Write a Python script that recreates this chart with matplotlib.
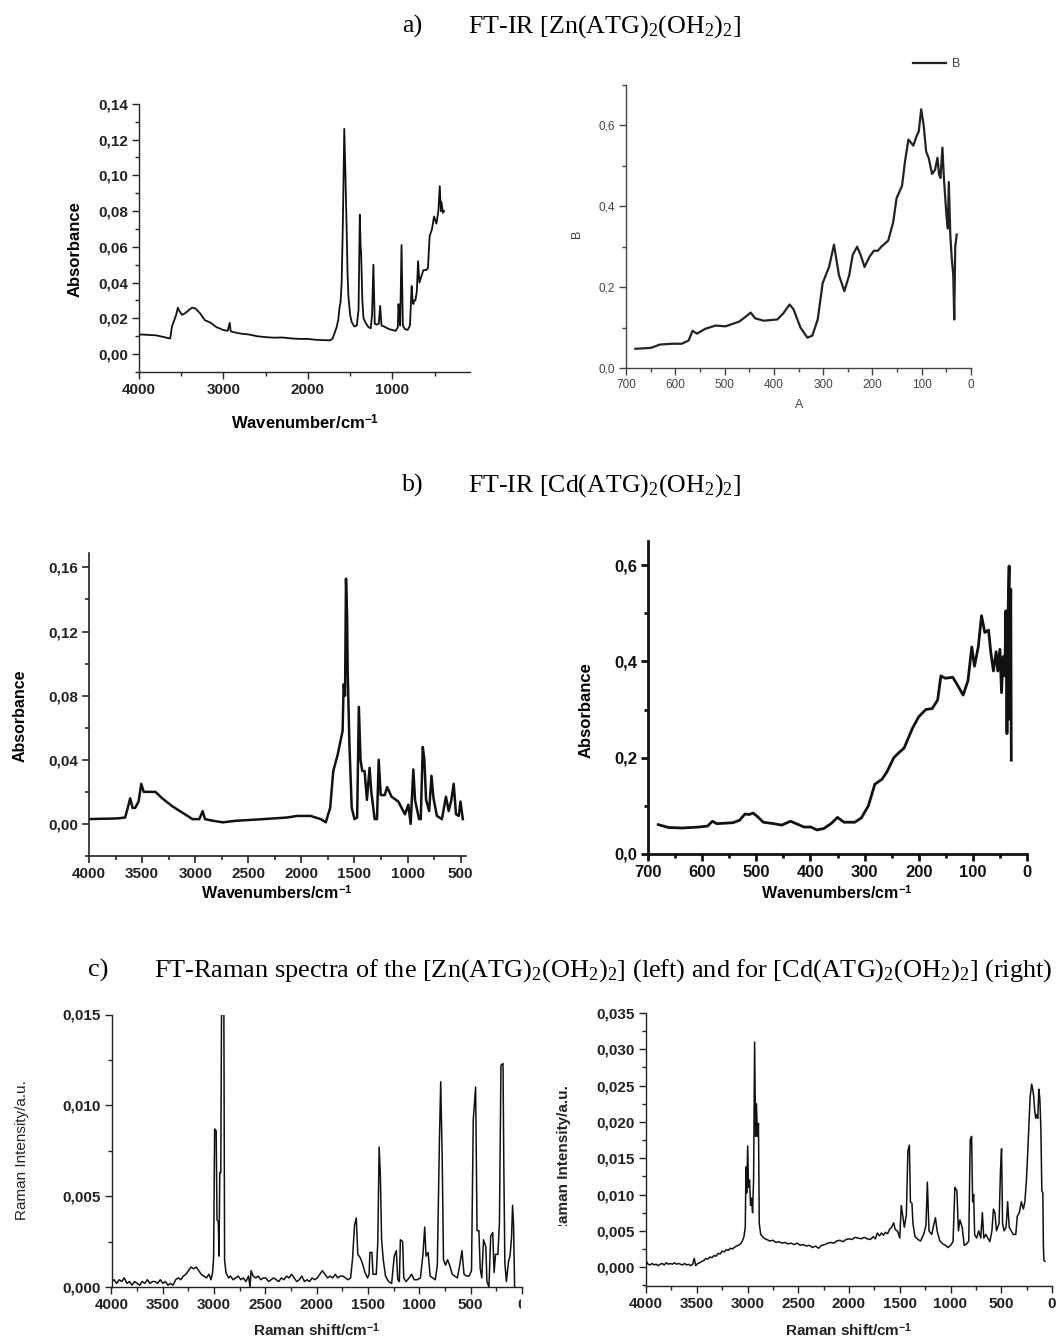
import numpy as np
import matplotlib.pyplot as plt
from matplotlib.ticker import MultipleLocator
from matplotlib.patches import Rectangle

plt.rcParams['font.family'] = ['Liberation Sans', 'DejaVu Sans']
plt.rcParams['mathtext.fontset'] = 'custom'
plt.rcParams['mathtext.rm'] = 'Liberation Serif'
plt.rcParams['mathtext.it'] = 'Liberation Serif:italic'
plt.rcParams['mathtext.bf'] = 'Liberation Sans:bold'
plt.rcParams['mathtext.sf'] = 'Liberation Sans'

# ---- data (x = wavenumber, y = intensity) ----
zn_ir = [(4000, 0.011), (3900, 0.0108), (3800, 0.0105), (3700, 0.0095), (3660, 0.009), (3630, 0.0088),
         (3610, 0.0155), (3590, 0.018), (3560, 0.022), (3540, 0.026), (3520, 0.024), (3490, 0.022),
         (3450, 0.023), (3400, 0.025), (3370, 0.026), (3330, 0.0255), (3280, 0.023), (3220, 0.019),
         (3150, 0.0175), (3080, 0.015), (3000, 0.0135), (2950, 0.013), (2925, 0.0175), (2915, 0.013),
         (2900, 0.0125), (2850, 0.012), (2800, 0.0115), (2700, 0.011), (2600, 0.01), (2500, 0.0095),
         (2400, 0.0092), (2300, 0.0093), (2200, 0.0088), (2100, 0.0085), (2000, 0.0085), (1900, 0.008),
         (1800, 0.0078), (1740, 0.0077), (1710, 0.0085), (1682, 0.012), (1660, 0.015), (1641, 0.019),
         (1625, 0.026), (1613, 0.029), (1600, 0.04), (1585, 0.075), (1569, 0.126), (1555, 0.1),
         (1541, 0.07), (1530, 0.045), (1521, 0.033), (1500, 0.022), (1481, 0.018), (1450, 0.0155),
         (1420, 0.016), (1400, 0.025), (1385, 0.078), (1375, 0.06), (1369, 0.056), (1355, 0.03),
         (1341, 0.02), (1310, 0.017), (1280, 0.015), (1255, 0.0145), (1240, 0.022), (1224, 0.05),
         (1208, 0.017), (1185, 0.0165), (1160, 0.017), (1144, 0.027), (1128, 0.016), (1100, 0.0155),
         (1040, 0.014), (960, 0.013), (935, 0.015), (927, 0.028), (915, 0.02), (907, 0.016),
         (891, 0.061), (875, 0.016), (850, 0.014), (819, 0.0135), (791, 0.016), (771, 0.038),
         (760, 0.03), (751, 0.028), (740, 0.03), (727, 0.03), (710, 0.035), (695, 0.052), (679, 0.04),
         (660, 0.043), (631, 0.047), (600, 0.047), (578, 0.048), (558, 0.066), (530, 0.07),
         (506, 0.077), (478, 0.073), (455, 0.08), (438, 0.094), (425, 0.08), (418, 0.085),
         (400, 0.079), (386, 0.08)]

zn_far = [(681, 0.0475), (660, 0.049), (649, 0.05), (631, 0.058), (607, 0.06), (587, 0.06), (573, 0.068),
          (565, 0.092), (556, 0.085), (539, 0.097), (518, 0.105), (498, 0.103), (470, 0.115), (456, 0.128),
          (447, 0.137), (438, 0.123), (421, 0.117), (393, 0.12), (381, 0.135), (368, 0.157), (360, 0.145),
          (346, 0.1), (332, 0.075), (322, 0.08), (311, 0.12), (301, 0.21), (288, 0.25), (278, 0.305),
          (268, 0.23), (257, 0.19), (247, 0.23), (240, 0.28), (231, 0.3), (224, 0.28), (216, 0.25),
          (206, 0.275), (197, 0.29), (189, 0.29), (182, 0.3), (168, 0.315), (158, 0.36), (151, 0.42),
          (140, 0.45), (134, 0.51), (127, 0.565), (117, 0.55), (110, 0.575), (106, 0.585), (101, 0.64),
          (96, 0.6), (91, 0.535), (86, 0.52), (79, 0.48), (73, 0.49), (68, 0.52), (65, 0.48), (62, 0.47),
          (58, 0.545), (55, 0.47), (50, 0.38), (47, 0.345), (45, 0.46), (42, 0.33), (39, 0.27),
          (36, 0.23), (34, 0.12), (32, 0.3), (29, 0.33)]

cd_ir = [(4000, 0.003), (3900, 0.0032), (3800, 0.0033), (3724, 0.0035), (3660, 0.004), (3635, 0.01),
         (3612, 0.016), (3590, 0.01), (3565, 0.01), (3533, 0.014), (3508, 0.025), (3485, 0.02),
         (3438, 0.02), (3374, 0.02), (3311, 0.016), (3215, 0.011), (3120, 0.007), (3025, 0.003),
         (2961, 0.003), (2930, 0.008), (2908, 0.003), (2835, 0.002), (2740, 0.001), (2612, 0.002),
         (2358, 0.003), (2250, 0.0035), (2135, 0.004), (2040, 0.005), (1913, 0.005), (1818, 0.003),
         (1770, 0.001), (1748, 0.006), (1729, 0.01), (1700, 0.033), (1659, 0.043), (1628, 0.053),
         (1612, 0.058), (1602, 0.087), (1589, 0.08), (1580, 0.153), (1570, 0.13), (1564, 0.095),
         (1548, 0.05), (1526, 0.01), (1500, 0.003), (1475, 0.004), (1459, 0.073), (1443, 0.04),
         (1427, 0.033), (1405, 0.033), (1383, 0.015), (1358, 0.035), (1342, 0.02), (1310, 0.003),
         (1288, 0.003), (1272, 0.04), (1253, 0.018), (1215, 0.018), (1193, 0.023), (1151, 0.017),
         (1088, 0.014), (1025, 0.006), (993, 0.012), (971, 0.0), (946, 0.034), (930, 0.015),
         (892, 0.003), (876, 0.003), (857, 0.048), (842, 0.04), (826, 0.015), (797, 0.008),
         (775, 0.03), (756, 0.016), (724, 0.005), (677, 0.003), (639, 0.017), (613, 0.008),
         (588, 0.015), (566, 0.025), (544, 0.006), (518, 0.005), (502, 0.014), (480, 0.003)]

cd_far = [(681, 0.061), (662, 0.055), (637, 0.054), (606, 0.056), (590, 0.058), (581, 0.068), (573, 0.063),
          (543, 0.065), (531, 0.07), (521, 0.083), (513, 0.082), (506, 0.085), (498, 0.078), (487, 0.066),
          (468, 0.063), (453, 0.06), (437, 0.068), (424, 0.062), (412, 0.056), (399, 0.056), (388, 0.05),
          (375, 0.053), (361, 0.064), (350, 0.076), (338, 0.066), (318, 0.066), (306, 0.075), (293, 0.1),
          (281, 0.145), (268, 0.155), (259, 0.17), (246, 0.2), (237, 0.21), (227, 0.22), (212, 0.26),
          (200, 0.285), (187, 0.3), (175, 0.302), (165, 0.32), (159, 0.37), (151, 0.365), (137, 0.367),
          (128, 0.35), (118, 0.33), (109, 0.36), (102, 0.43), (97, 0.39), (90, 0.43), (84, 0.495),
          (78, 0.46), (71, 0.465), (67, 0.42), (62, 0.38), (57, 0.42), (54, 0.38), (50, 0.425),
          (47, 0.335), (44, 0.41), (41, 0.37), (39, 0.505), (37, 0.25), (35, 0.5), (33, 0.598),
          (32, 0.28), (30, 0.55), (29, 0.195)]

zn_raman = [(4000, 0.0003), (3975, 0.0004), (3950, 0.0002), (3925, 0.0004), (3900, 0.0003), (3875, 0.0005),
            (3850, 0.0002), (3825, 0.0003), (3800, 0.0001), (3775, 0.0003), (3750, 0.0002), (3725, 0.0001),
            (3700, 0.0003), (3675, 0.0002), (3650, 0.0004), (3625, 0.0002), (3600, 0.0003), (3575, 0.0003),
            (3550, 0.0002), (3525, 0.0004), (3500, 0.0002), (3475, 0.0003), (3450, 0.0001), (3425, 0.0002),
            (3400, 0.0001), (3375, 0.0004), (3350, 0.0005), (3325, 0.0004), (3300, 0.0006), (3275, 0.0007),
            (3250, 0.0009), (3225, 0.0011), (3200, 0.001), (3175, 0.0011), (3150, 0.0009), (3125, 0.0007),
            (3100, 0.0006), (3075, 0.0005), (3050, 0.0007), (3030, 0.0004), (3015, 0.0008), (3005, 0.0016),
            (2995, 0.0087), (2980, 0.0086), (2972, 0.0037), (2960, 0.0036), (2952, 0.0017), (2945, 0.0063),
            (2935, 0.0063), (2928, 0.015), (2905, 0.015), (2898, 0.0015), (2885, 0.0008), (2860, 0.0005),
            (2840, 0.0006), (2815, 0.0004), (2790, 0.0005), (2765, 0.0006), (2740, 0.0004), (2715, 0.0005),
            (2690, 0.0003), (2665, 0.0006), (2650, 0.0), (2640, 0.0009), (2620, 0.0006), (2595, 0.0005),
            (2570, 0.0006), (2545, 0.0004), (2520, 0.0005), (2495, 0.0005), (2470, 0.0003), (2445, 0.0004),
            (2420, 0.0005), (2395, 0.0004), (2370, 0.0003), (2345, 0.0005), (2320, 0.0004), (2295, 0.0006),
            (2270, 0.0005), (2245, 0.0007), (2220, 0.0005), (2195, 0.0003), (2170, 0.0004), (2145, 0.0006),
            (2120, 0.0003), (2095, 0.0004), (2070, 0.0003), (2045, 0.0005), (2020, 0.0004), (1995, 0.0005),
            (1970, 0.0007), (1945, 0.0009), (1920, 0.0007), (1895, 0.0005), (1870, 0.0006), (1845, 0.0005),
            (1820, 0.0007), (1795, 0.0005), (1770, 0.0006), (1745, 0.0006), (1720, 0.0005), (1695, 0.0004),
            (1670, 0.0005), (1652, 0.0015), (1632, 0.0034), (1615, 0.0038), (1600, 0.0018), (1575, 0.0016),
            (1555, 0.0013), (1530, 0.0008), (1505, 0.0005), (1490, 0.0007), (1482, 0.0019), (1462, 0.0019),
            (1452, 0.0007), (1420, 0.0007), (1405, 0.0025), (1392, 0.0077), (1380, 0.0061), (1368, 0.0026),
            (1352, 0.0015), (1330, 0.0006), (1300, 0.0003), (1270, 0.0002), (1245, 0.0017), (1225, 0.002),
            (1210, 0.0004), (1195, 0.0003), (1185, 0.0026), (1163, 0.0025), (1152, 0.0005), (1130, 0.0003),
            (1100, 0.0005), (1075, 0.0007), (1050, 0.0004), (1020, 0.0004), (990, 0.0005), (965, 0.0018),
            (948, 0.0033), (935, 0.0017), (915, 0.0019), (895, 0.0006), (870, 0.0005), (845, 0.0004),
            (825, 0.0012), (805, 0.008), (792, 0.0113), (778, 0.0072), (765, 0.0015), (745, 0.0012),
            (725, 0.0015), (705, 0.0012), (680, 0.0007), (655, 0.0006), (630, 0.0005), (610, 0.0011),
            (585, 0.002), (565, 0.0007), (540, 0.0006), (515, 0.0006), (492, 0.0009), (475, 0.0092),
            (452, 0.011), (438, 0.0031), (420, 0.0031), (407, 0.001), (392, 0.0005), (375, 0.0026),
            (352, 0.0022), (342, 0.0003), (322, 0.0), (305, 0.0028), (285, 0.003), (272, 0.0008),
            (258, 0.0018), (235, 0.0018), (220, 0.0035), (205, 0.0122), (185, 0.0123), (177, 0.0065),
            (167, 0.0013), (152, 0.0003), (132, 0.0014), (117, 0.0017), (102, 0.0027), (92, 0.0045),
            (82, 0.0034), (72, 0.0)]

cd_raman = [(4000, 0.0009), (3980, 0.0004), (3960, 0.0003), (3940, 0.0005), (3920, 0.0003), (3900, 0.0004),
            (3880, 0.0002), (3860, 0.0004), (3840, 0.0005), (3820, 0.0003), (3800, 0.0006), (3780, 0.0004),
            (3760, 0.0005), (3740, 0.0004), (3720, 0.0006), (3700, 0.0004), (3680, 0.0005), (3660, 0.0004),
            (3640, 0.0003), (3620, 0.0005), (3600, 0.0003), (3580, 0.0004), (3560, 0.0002), (3540, 0.0004),
            (3525, 0.0012), (3510, 0.0002), (3490, 0.0005), (3470, 0.0006), (3450, 0.0008), (3430, 0.0009),
            (3410, 0.0012), (3390, 0.0011), (3370, 0.0014), (3350, 0.0013), (3330, 0.0016), (3310, 0.0015),
            (3290, 0.0019), (3270, 0.0018), (3250, 0.0022), (3230, 0.0021), (3210, 0.0024), (3190, 0.0023),
            (3170, 0.0026), (3150, 0.0025), (3130, 0.0027), (3110, 0.0029), (3090, 0.003), (3070, 0.0032),
            (3050, 0.0036), (3035, 0.0042), (3022, 0.0055), (3015, 0.0138), (3008, 0.0102), (2998, 0.0167),
            (2990, 0.011), (2980, 0.012), (2970, 0.0085), (2960, 0.0095), (2950, 0.0075), (2940, 0.012),
            (2930, 0.031), (2920, 0.018), (2912, 0.0225), (2902, 0.018), (2892, 0.0198), (2884, 0.006),
            (2870, 0.0045), (2840, 0.004), (2810, 0.0038), (2780, 0.0036), (2750, 0.0037), (2720, 0.0034),
            (2690, 0.0035), (2660, 0.0033), (2630, 0.0034), (2600, 0.0032), (2570, 0.0033), (2540, 0.0031),
            (2510, 0.0033), (2480, 0.003), (2450, 0.0031), (2420, 0.0029), (2390, 0.003), (2360, 0.0027),
            (2330, 0.0029), (2300, 0.0026), (2270, 0.003), (2240, 0.0031), (2210, 0.0033), (2180, 0.0034),
            (2150, 0.0033), (2120, 0.0036), (2090, 0.0037), (2060, 0.0035), (2030, 0.0038), (2000, 0.0039),
            (1970, 0.0038), (1940, 0.0041), (1910, 0.004), (1880, 0.0039), (1850, 0.0041), (1820, 0.0039),
            (1790, 0.0038), (1760, 0.0042), (1740, 0.0039), (1720, 0.0047), (1700, 0.0043), (1680, 0.0047),
            (1660, 0.0044), (1640, 0.0048), (1620, 0.0046), (1600, 0.0052), (1580, 0.0055), (1560, 0.0061),
            (1545, 0.0052), (1520, 0.0049), (1500, 0.004), (1485, 0.0085), (1470, 0.007), (1455, 0.0055),
            (1435, 0.0072), (1420, 0.016), (1405, 0.0168), (1395, 0.009), (1380, 0.0088), (1370, 0.006),
            (1350, 0.0042), (1320, 0.0038), (1295, 0.0036), (1265, 0.0045), (1242, 0.0057), (1228, 0.0117),
            (1212, 0.005), (1185, 0.0045), (1162, 0.006), (1148, 0.0068), (1132, 0.005), (1105, 0.0036),
            (1075, 0.0032), (1050, 0.003), (1025, 0.0027), (1000, 0.003), (975, 0.0035), (957, 0.011),
            (937, 0.0105), (922, 0.005), (907, 0.0065), (885, 0.0055), (865, 0.003), (840, 0.0032),
            (820, 0.0036), (806, 0.0175), (792, 0.018), (782, 0.009), (772, 0.01), (762, 0.0045),
            (742, 0.004), (722, 0.005), (702, 0.004), (686, 0.0075), (672, 0.004), (652, 0.0045),
            (632, 0.004), (612, 0.0035), (592, 0.005), (577, 0.008), (562, 0.0075), (547, 0.005),
            (522, 0.006), (507, 0.0135), (497, 0.0163), (487, 0.006), (472, 0.005), (452, 0.0055),
            (437, 0.009), (422, 0.0055), (402, 0.005), (382, 0.0045), (357, 0.0045), (342, 0.007),
            (322, 0.0075), (302, 0.009), (282, 0.008), (267, 0.009), (252, 0.012), (240, 0.0155),
            (226, 0.02), (215, 0.0235), (200, 0.0252), (190, 0.0245), (180, 0.0235), (170, 0.0215),
            (160, 0.0205), (150, 0.021), (140, 0.0205), (130, 0.0245), (120, 0.0232), (110, 0.0193),
            (100, 0.0105), (90, 0.0102), (85, 0.003), (80, 0.001), (70, 0.0008)]

ir_mid_xticks = [4000, 3000, 2000, 1000]
ir_mid_yticks = [0.00, 0.02, 0.04, 0.06, 0.08, 0.10, 0.12, 0.14]
far_xticks = [700, 600, 500, 400, 300, 200, 100, 0]
zn_far_yticks = [0.0, 0.2, 0.4, 0.6]
cd_ir_xticks = [4000, 3500, 3000, 2500, 2000, 1500, 1000, 500]
cd_ir_yticks = [0.00, 0.04, 0.08, 0.12, 0.16]
cd_far_yticks = [0.0, 0.2, 0.4, 0.6]
raman_xticks = [4000, 3500, 3000, 2500, 2000, 1500, 1000, 500, 0]
zn_raman_yticks = [0.000, 0.005, 0.010, 0.015]
cd_raman_yticks = [0.000, 0.005, 0.010, 0.015, 0.020, 0.025, 0.030, 0.035]

W, H = 1061, 1338
fig = plt.figure(figsize=(W / 100, H / 100), dpi=100)


def px_axes(l, t, r, b):
    return fig.add_axes([l / W, 1 - b / H, (r - l) / W, (b - t) / H])


def fig_text(x, y, s, **kw):
    return fig.text(x / W, 1 - y / H, s, **kw)


def lab(vals, fmt):
    return [(fmt % v).replace('.', ',') for v in vals]


def setup(ax, xt, xfmt, yt, yfmt, xminor, yminor, size, weight, color, lw, xlim, ylim):
    for s in ['top', 'right']:
        ax.spines[s].set_visible(False)
    for s in ['left', 'bottom']:
        ax.spines[s].set_linewidth(lw)
        ax.spines[s].set_color(color)
    ax.set_xlim(*xlim)
    ax.set_ylim(*ylim)
    ax.set_xticks(xt, lab(xt, xfmt), fontsize=size, fontweight=weight, color=color)
    ax.set_yticks(yt, lab(yt, yfmt), fontsize=size, fontweight=weight, color=color)
    ax.xaxis.set_minor_locator(MultipleLocator(xminor))
    ax.yaxis.set_minor_locator(MultipleLocator(yminor))
    ax.tick_params(which='major', direction='out', length=5, width=lw, color=color, pad=3)
    ax.tick_params(which='minor', direction='out', length=3, width=lw, color=color)


def plot(ax, pairs, **kw):
    arr = np.array(pairs)
    ax.plot(arr[:, 0], arr[:, 1], **kw)


# a) left: Zn mid IR
ax1 = px_axes(139, 103.5, 470, 372)
plot(ax1, zn_ir, color='#111111', lw=1.3)
setup(ax1, ir_mid_xticks, '%d', ir_mid_yticks, '%.2f', 500, 0.01, 11, 'bold', '#222222', 1.0,
      (4000, 80), (-0.01, 0.1402))
fig_text(75, 249, 'Absorbance', rotation=90, ha='center', va='center', fontsize=12, fontweight='bold')
fig_text(305, 423, r'Wavenumber/cm$^{\mathbf{-1}}$', ha='center', va='center', fontsize=12,
         fontweight='bold')

# a) right: Zn far IR
ax2 = px_axes(626, 85, 971, 368)
plot(ax2, zn_far, color='#222222', lw=1.6, label='B')
setup(ax2, far_xticks, '%d', zn_far_yticks, '%.1f', 50, 0.1, 8.5, 'normal', '#444444', 1.0,
      (700, 0), (0, 0.7))
fig_text(577, 234, 'B', rotation=90, ha='center', va='center', fontsize=9, color='#444444')
fig_text(799, 405, 'A', ha='center', va='center', fontsize=9, color='#444444')
ax2.legend(loc='center left', bbox_to_anchor=(913 / W, 1 - 64 / H), bbox_transform=fig.transFigure,
           frameon=False, fontsize=9, handlelength=2.6, handletextpad=0.5, borderpad=0,
           borderaxespad=0, labelcolor='#444444')

# b) left: Cd mid IR
ax3 = px_axes(89, 553, 466, 856)
plot(ax3, cd_ir, color='#111111', lw=1.8)
setup(ax3, cd_ir_xticks, '%d', cd_ir_yticks, '%.2f', 250, 0.02, 11, 'bold', '#222222', 1.2,
      (4000, 450), (-0.02, 0.169))
fig_text(20, 716, 'Absorbance', rotation=90, ha='center', va='center', fontsize=11.5, fontweight='bold')
fig_text(277, 893, r'Wavenumbers/cm$^{\mathbf{-1}}$', ha='center', va='center', fontsize=11.5,
         fontweight='bold')

# b) right: Cd far IR
ax4 = px_axes(648, 541, 1027, 854)
plot(ax4, cd_far, color='#111111', lw=2.0)
setup(ax4, far_xticks, '%d', cd_far_yticks, '%.1f', 50, 0.1, 12, 'bold', '#111111', 2.0,
      (700, 0), (0, 0.65))
fig_text(586, 710, 'Absorbance', rotation=90, ha='center', va='center', fontsize=12, fontweight='bold')
fig_text(837, 893, r'Wavenumbers/cm$^{\mathbf{-1}}$', ha='center', va='center', fontsize=11.5,
         fontweight='bold')

# c) left: Zn Raman
ax5 = px_axes(111.5, 1014.5, 522, 1287)
plot(ax5, zn_raman, color='#111111', lw=1.1)
setup(ax5, raman_xticks, '%d', zn_raman_yticks, '%.3f', 250, 0.0025, 11, 'bold', '#222222', 1.0,
      (4000, 0), (0, 0.015))
fig_text(22, 1150, 'Raman Intensity/a.u.', rotation=90, ha='center', va='center', fontsize=11,
         color='#222222')
fig_text(317, 1336, r'Raman shift/cm$^{\mathbf{-1}}$', ha='center', va='baseline', fontsize=11,
         fontweight='bold', color='#222222')

# c) right: Cd Raman
ax6 = px_axes(646, 1013, 1052, 1286)
plot(ax6, cd_raman, color='#111111', lw=1.1)
setup(ax6, raman_xticks, '%d', cd_raman_yticks, '%.3f', 250, 0.0025, 11, 'bold', '#222222', 1.0,
      (4000, 43), (-0.0026, 0.035))
yl = fig_text(564, 1085, 'Raman Intensity/a.u.', rotation=90, ha='center', va='top', fontsize=11,
              fontweight='bold', color='#222222')
yl.set_clip_on(True)
yl.set_clip_path(Rectangle((0, 1 - 1226 / H), 1, 1226 / H, transform=fig.transFigure))
fig_text(849, 1336, r'Raman shift/cm$^{\mathbf{-1}}$', ha='center', va='baseline', fontsize=11,
         fontweight='bold', color='#222222')

# captions (Times-like), fitted to the widths seen in the picture
serif = 'Liberation Serif'
caps = [(402, 468, 33, 'a)', r'FT-IR [Zn(ATG)$_2$(OH$_2$)$_2$]', 274),
        (402, 468, 492, 'b)', r'FT-IR [Cd(ATG)$_2$(OH$_2$)$_2$]', 274),
        (88, 154, 977, 'c)', r'FT-Raman spectra of the [Zn(ATG)$_2$(OH$_2$)$_2$] (left) and for '
                             r'[Cd(ATG)$_2$(OH$_2$)$_2$] (right)', 898)]
made = []
for xt, xs, yb, tag, txt, wpx in caps:
    t1 = fig_text(xt, yb, tag, family=serif, fontsize=16, va='baseline')
    t2 = fig_text(xs, yb, txt, family=serif, fontsize=16, va='baseline')
    made.append((t1, t2, wpx))
fig.canvas.draw()
rend = fig.canvas.get_renderer()
for t1, t2, wpx in made:
    fs = 16 * wpx / t2.get_window_extent(rend).width
    t1.set_fontsize(fs)
    t2.set_fontsize(fs)

# the "0" under the left Raman panel is cut in half by the picture's crop
for tick in ax5.xaxis.get_major_ticks():
    if tick.label1.get_text() == '0':
        tick.label1.set_clip_on(True)
        tick.label1.set_clip_path(Rectangle((0, 0), 521 / W, 1, transform=fig.transFigure))

fig.savefig('out.png', dpi=100)
